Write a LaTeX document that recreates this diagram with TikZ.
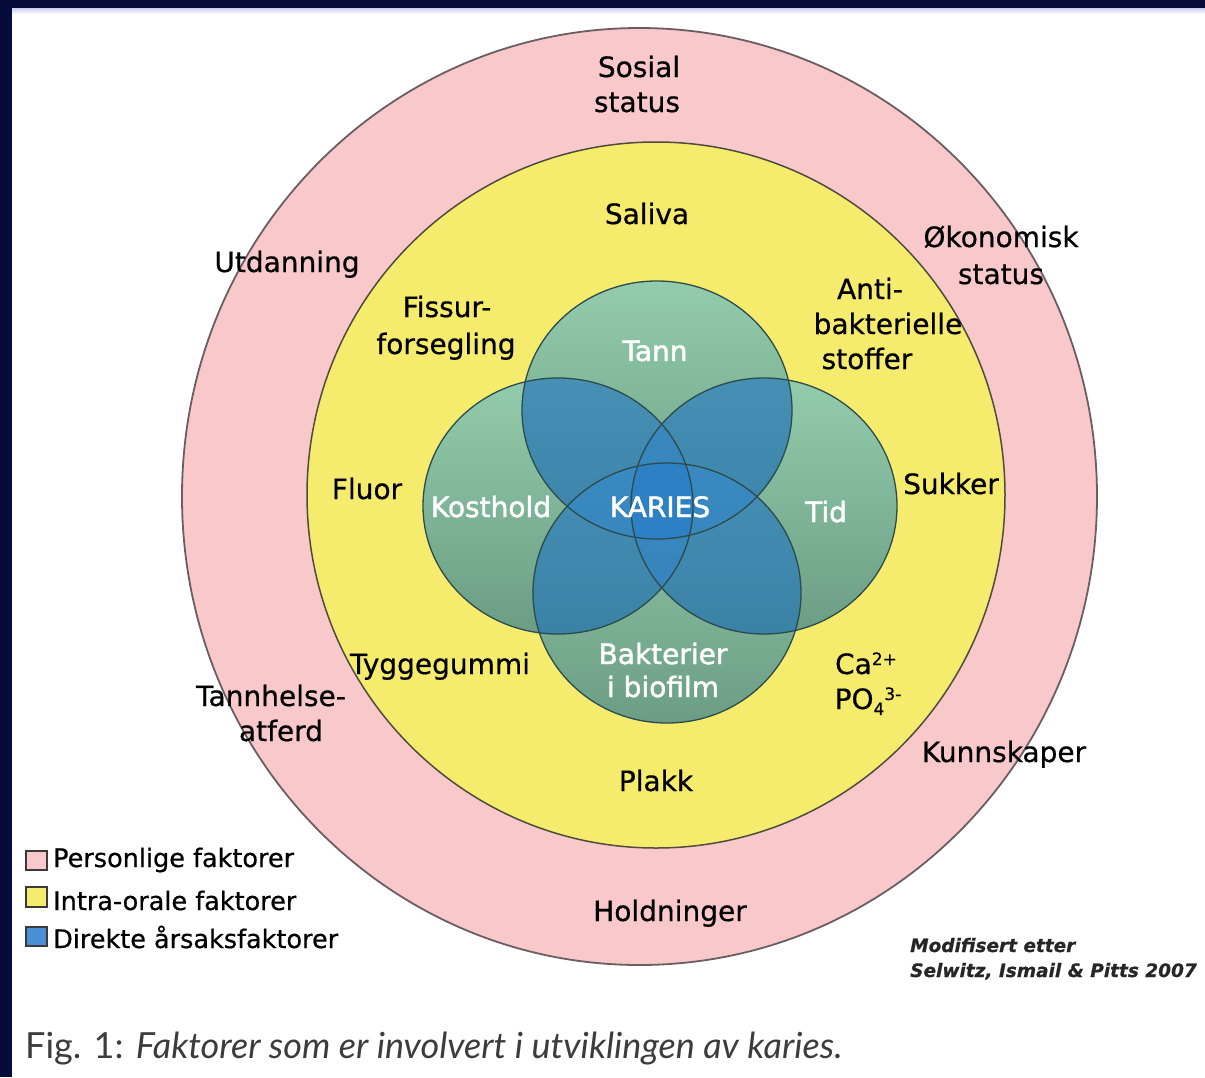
\documentclass[tikz,border=0pt]{standalone}
\usepackage{fontspec}
\setmainfont{DejaVu Sans}[FakeBold=0.6]
\newfontfamily\vennfont{DejaVu Sans}[FakeBold=1.6]
\newfontfamily\capfont{Lato}
\definecolor{navy}{HTML}{060B3C}
\definecolor{ringpink}{HTML}{F8C8CA}
\definecolor{ringyellow}{HTML}{F5EB6C}
\definecolor{pinkrim}{HTML}{6B5E62}
\definecolor{yellowrim}{HTML}{4E4C3E}
\definecolor{greentop}{HTML}{93CCAC}
\definecolor{greenbot}{HTML}{6B9D84}
\definecolor{pairtop}{HTML}{4690B5}
\definecolor{pairbot}{HTML}{357A9F}
\definecolor{tripletop}{HTML}{3A8AC2}
\definecolor{triplebot}{HTML}{307EB5}
\definecolor{quadblue}{HTML}{2E80C4}
\definecolor{vennrim}{HTML}{2D4A4C}
\definecolor{legblue}{HTML}{4A8FD6}
\definecolor{legrim}{HTML}{3A3A3A}
\definecolor{captext}{HTML}{3C3C3C}
% the four Venn circles
\def\tann{(657,410) ellipse [x radius=135pt, y radius=129pt]}
\def\kost{(558,506) ellipse [x radius=135pt, y radius=128pt]}
\def\tid{(764,506) ellipse [x radius=133pt, y radius=128pt]}
\def\bakt{(667,593) ellipse [x radius=134pt, y radius=130pt]}
\newcommand\pairfill[2]{\begin{scope}\clip #1;
  \shade[top color=pairtop, bottom color=pairbot] #2;\end{scope}}
\newcommand\triplefill[3]{\begin{scope}\clip #1; \clip #2;
  \shade[top color=tripletop, bottom color=triplebot] #3;\end{scope}}
\newcommand\supsmall[1]{\raisebox{9pt}{\fontsize{17}{17}\selectfont #1}}
\newcommand\subsmall[1]{\raisebox{-6pt}{\fontsize{17}{17}\selectfont #1}}
\begin{document}
\begin{tikzpicture}[x=1pt, y=-1pt,
  lbl/.style={anchor=base, inner sep=0pt, text=black,
    font=\fontsize{28}{34}\selectfont},
  vlbl/.style={lbl, text=white, font=\vennfont\fontsize{28}{34}\selectfont},
  legtxt/.style={anchor=base west, inner sep=0pt, text=black,
    font=\fontsize{25.5}{28}\selectfont},
  legbox/.style={draw=legrim, line width=1.2pt},
  srcnote/.style={anchor=base west, inner sep=0pt, text=black!85,
    font=\fontsize{18.5}{22}\selectfont\bfseries\itshape},
  ring/.style={line width=1.8pt}]
\useasboundingbox (0,0) rectangle (1205,1077);
\fill[white] (0,0) rectangle (1205,1077);

% page frame
\shade[top color=black!30!blue!20, bottom color=white] (12,8) rectangle (1205,14);
\fill[navy] (0,0) rectangle (1205,8);
\fill[navy] (0,0) rectangle (12,1077);

% outer and inner rings
\filldraw[ring, fill=ringpink, draw=pinkrim] (639.5,496.5) ellipse [x radius=457.5pt, y radius=468.5pt];
\filldraw[ring, fill=ringyellow, draw=yellowrim, line width=1.5pt] (656,495) ellipse [x radius=349pt, y radius=353pt];

% Venn circles: single coverage
\shade[top color=greentop, bottom color=greenbot] \tann;
\shade[top color=greentop, bottom color=greenbot] \kost;
\shade[top color=greentop, bottom color=greenbot] \tid;
\shade[top color=greentop, bottom color=greenbot] \bakt;
% pairwise overlaps
\pairfill{\tann}{\kost}
\pairfill{\tann}{\tid}
\pairfill{\kost}{\bakt}
\pairfill{\tid}{\bakt}
\pairfill{\tann}{\bakt}
\pairfill{\kost}{\tid}
% triple overlaps
\triplefill{\tann}{\kost}{\tid}
\triplefill{\tann}{\kost}{\bakt}
\triplefill{\tann}{\tid}{\bakt}
\triplefill{\kost}{\tid}{\bakt}
% centre, all four
\begin{scope}\clip \tann; \clip \kost; \clip \tid; \fill[quadblue] \bakt;\end{scope}
% circle outlines
\draw[vennrim, line width=1.3pt] \tann;
\draw[vennrim, line width=1.3pt] \kost;
\draw[vennrim, line width=1.3pt] \tid;
\draw[vennrim, line width=1.3pt] \bakt;

% personal factors
\node[lbl] (sosA) at (639,77) {Sosial};
\node[lbl] (sosB) at (637,112) {status};
\node[lbl] (utd) at (287,272) {Utdanning};
\node[lbl] (okoA) at (1001,247) {Økonomisk};
\node[lbl] (okoB) at (1001,284) {status};
\node[lbl] (thA) at (271,706) {Tannhelse-};
\node[lbl] (thB) at (281,741) {atferd};
\node[lbl] (kunn) at (1004,762) {Kunnskaper};
\node[lbl] (hold) at (670,921) {Holdninger};

% intra-oral factors
\node[lbl] (sal) at (647,224) {Saliva};
\node[lbl] (fisA) at (447,317) {Fissur-};
\node[lbl] (fisB) at (446,354) {forsegling};
\node[lbl] (antA) at (870,299) {Anti-};
\node[lbl] (antB) at (888,334) {bakterielle};
\node[lbl] (antC) at (867,369) {stoffer};
\node[lbl] (flu) at (367,499) {Fluor};
\node[lbl] (suk) at (951,494) {Sukker};
\node[lbl] (tyg) at (440,674) {Tyggegummi};
\node[lbl] (ca) at (866,674) {Ca\supsmall{2+}};
\node[lbl] (po) at (868,709) {PO\subsmall{4}\supsmall{3-}};
\node[lbl] (pla) at (656,791) {Plakk};

% direct causes
\node[vlbl] (tannL) at (655,361) {Tann};
\node[vlbl] (kostL) at (491,517) {Kosthold};
\node[vlbl] (kar) at (660,517) {KARIES};
\node[vlbl] (tidL) at (826,522) {Tid};
\node[vlbl] (baA) at (663,664) {Bakterier};
\node[vlbl] (baB) at (663,697) {i biofilm};

% legend
\filldraw[legbox, fill=ringpink] (26,851) rectangle (47,870);
\filldraw[legbox, fill=ringyellow] (26,887) rectangle (47,907);
\filldraw[legbox, fill=legblue] (26,927) rectangle (47,946);
\node[legtxt] (legA) at (53,867) {Personlige faktorer};
\node[legtxt] (legB) at (53,910) {Intra-orale faktorer};
\node[legtxt] (legC) at (53,948) {Direkte årsaksfaktorer};

% source
\node[srcnote] (srcA) at (910,952) {Modifisert etter};
\node[srcnote] (srcB) at (910,977) {Selwitz, Ismail \& Pitts 2007};

% caption
\node[anchor=base west, inner sep=0pt, text=captext,
  font=\capfont\fontsize{36}{40}\selectfont] (cap) at (25,1058)
  {Fig. 1: \itshape Faktorer som er involvert i utviklingen av karies.};
\end{tikzpicture}
\end{document}
